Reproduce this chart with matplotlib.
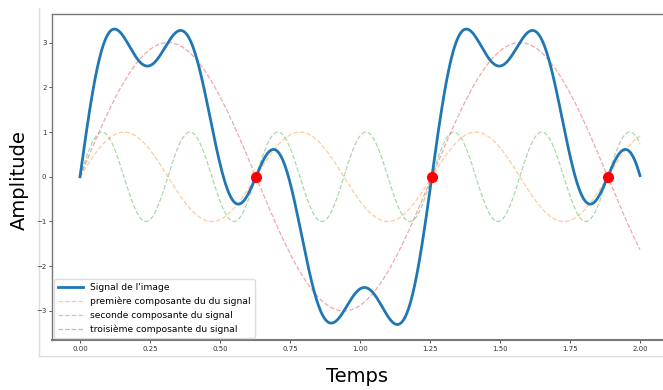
import numpy as np
import matplotlib.pyplot as plt

# sine components (amplitude, angular frequency in rad/s)
comp_labels = ["première composante du du signal",
               "seconde composante du signal",
               "troisième composante du signal"]
comp_amps = [1.0, 1.0, 3.0]
comp_freqs = [10.0, 20.0, 5.0]
comp_colors = ["tab:orange", "tab:green", "tab:red"]

zero_times = [0.628, 1.257, 1.885]
zero_vals = [0.0, 0.0, 0.0]

xticks = [0.00, 0.25, 0.50, 0.75, 1.00, 1.25, 1.50, 1.75, 2.00]
yticks = [-3, -2, -1, 0, 1, 2, 3]

t = np.linspace(0, 2, 800)
comps = [a * np.sin(w * t) for a, w in zip(comp_amps, comp_freqs)]
signal = np.sum(comps, axis=0)

W, H = 663, 390
fig = plt.figure(figsize=(W / 100, H / 100), dpi=100)

# outer frame carrying the shared axis labels
outer = fig.add_axes([39 / W, (H - 356) / H, 1.0, (356 - 8) / H])
outer.set_facecolor("none")
for s in ["top", "right"]:
    outer.spines[s].set_visible(False)
for s in ["left", "bottom"]:
    outer.spines[s].set_color("#dddddd")
    outer.spines[s].set_linewidth(1.0)
outer.set_xticks([])
outer.set_yticks([])
fig.text(357 / W, 1 - 377 / H, "Temps", fontsize=14, ha="center", va="center")
fig.text(19 / W, 1 - 180 / H, "Amplitude", fontsize=14, ha="center", va="center",
         rotation=90)

ax = fig.add_axes([52 / W, (H - 340) / H, (668 - 52) / W, (340 - 14) / H])
ax.plot(t, signal, color="tab:blue", lw=2, label="Signal de l'image", zorder=3)
for y, lab, c in zip(comps, comp_labels, comp_colors):
    ax.plot(t, y, color=c, lw=0.9, ls="--", alpha=0.4, label=lab)
ax.plot(zero_times, zero_vals, "o", color="red", ms=7, zorder=4)

ax.set_xlim(-0.1, 2.1)
ax.set_ylim(-3.65, 3.64)
ax.set_xticks(xticks)
ax.set_xticklabels([f"{v:.2f}" for v in xticks])
ax.set_yticks(yticks)
ax.tick_params(labelsize=5, length=2, width=0.6, pad=2, colors="#333333")
for s in ax.spines.values():
    s.set_color("#777777")
    s.set_linewidth(1.0)
ax.spines["bottom"].set_linewidth(1.5)

ax.legend(loc="lower left", fontsize=6.6, framealpha=1, edgecolor="#dddddd",
          borderpad=0.45, labelspacing=0.5, handlelength=2.7,
          borderaxespad=0.2)

fig.savefig("out.png", dpi=100)
